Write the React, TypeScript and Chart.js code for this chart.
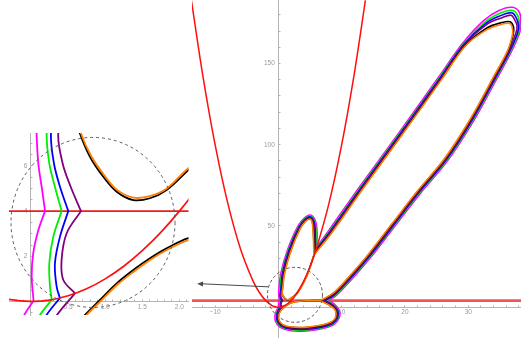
import React, { useEffect, useRef } from 'react';
import { Chart, registerables } from 'chart.js';

Chart.register(...registerables);

type Pt = [number, number];

// ---------- data (x, y in data units) ----------
const magentaCurve: Pt[] = [
  [6.0, 36.7], [8.03, 47.58], [12.78, 73.78], [19.08, 107.58], [25.38, 141.98], [29.08, 162.28],
  [32.38, 176.24], [34.85, 182.61], [36.99, 184.6], [38.13, 181.0], [38.26, 173.7], [38.08, 168.55],
  [36.73, 156.71], [34.52, 140.71], [30.87, 114.86], [26.75, 90.22], [22.49, 70.32], [18.27, 49.22],
  [14.62, 30.82], [11.42, 16.42], [9.06, 6.9], [7.84, 4.0], [7.84, 4.0], [8.81, 2.03], [9.66, -2.4],
  [9.61, -6.5], [8.81, -10.63], [7.04, -13.18], [4.5, -14.62], [1.97, -14.5], [0.29, -12.43],
  [-0.46, -8.6], [-0.51, -4.5], [-0.21, -1.5], [-0.09, -0.6], [0.035, 0.03], [0.035, 0.03],
  [0.01, 1.1], [0.03, 2.13], [0.1, 3.16], [0.19, 4.0], [0.19, 4.0], [0.144, 5.08], [0.099, 6.11],
  [0.076, 7.44], [0.06, 10.0], [0.4, 21.1], [1.48, 35.7], [3.11, 50.07], [4.27, 55.4], [5.24, 56.4],
  [5.95, 51.65], [6.11, 43.5], [6.0, 36.7],
];

const greenCurve: Pt[] = [
  [5.9, 35.5], [8.15, 47.2], [12.9, 73.4], [19.2, 107.2], [25.5, 141.6], [29.2, 161.9], [32.6, 175.4],
  [35.0, 180.9], [36.9, 182.8], [37.8, 179.7], [38.1, 173.6], [37.93, 168.7], [36.59, 157.0],
  [34.38, 141.0], [30.74, 115.2], [26.63, 90.6], [22.37, 70.7], [18.15, 49.6], [14.5, 31.2],
  [11.3, 16.8], [8.94, 7.3], [7.52, 4.0], [7.52, 4.0], [8.7, 1.6], [9.5, -2.4], [9.45, -6.5],
  [8.7, -10.2], [7.0, -12.6], [4.5, -14.0], [2.0, -13.9], [0.4, -12.0], [-0.3, -8.5], [-0.35, -4.5],
  [-0.05, -1.5], [0.12, -0.6], [0.28, 0.08], [0.28, 0.08], [0.256, 0.66], [0.247, 1.69], [0.301, 2.87],
  [0.413, 4.0], [0.413, 4.0], [0.323, 5.08], [0.247, 6.11], [0.211, 7.44], [0.25, 10.0], [0.55, 21.0],
  [1.6, 35.3], [3.2, 49.6], [4.3, 54.8], [5.2, 55.8], [5.8, 51.5], [5.95, 43.5], [5.9, 35.5],
];

const blueCurve: Pt[] = [
  [5.83, 34.66], [8.24, 46.93], [12.99, 73.13], [19.29, 106.93], [25.59, 141.33], [29.29, 161.63],
  [32.77, 174.77], [35.13, 179.48], [36.82, 181.3], [37.52, 178.6], [37.94, 173.55], [37.78, 168.85],
  [36.49, 157.2], [34.28, 141.2], [30.65, 115.44], [26.54, 90.87], [22.28, 70.97], [18.06, 49.87],
  [14.41, 31.47], [11.21, 17.07], [8.86, 7.58], [7.3, 4.0], [7.3, 4.0], [8.62, 1.3], [9.39, -2.4],
  [9.34, -6.5], [8.62, -9.9], [6.97, -12.19], [4.5, -13.57], [2.02, -13.48], [0.48, -11.7],
  [-0.19, -8.43], [-0.24, -4.5], [0.06, -1.5], [0.21, -0.6], [0.39, 0.15], [0.39, 0.15], [0.346, 0.66],
  [0.323, 1.69], [0.391, 2.87], [0.503, 4.0], [0.503, 4.0], [0.391, 5.08], [0.31, 6.11], [0.27, 7.44],
  [0.38, 10.0], [0.66, 20.93], [1.68, 35.02], [3.26, 49.27], [4.32, 54.38], [5.17, 55.38], [5.7, 51.4],
  [5.84, 43.5], [5.83, 34.66],
];

const purpleCurve: Pt[] = [
  [5.76, 33.82], [8.32, 46.67], [13.07, 72.87], [19.37, 106.67], [25.67, 141.07], [29.37, 161.37],
  [32.93, 174.14], [35.25, 178.05], [36.75, 179.8], [37.25, 177.5], [37.7, 173.5], [37.55, 169.1],
  [36.4, 157.4], [34.19, 141.41], [30.56, 115.68], [26.46, 91.13], [22.2, 71.23], [17.98, 50.13],
  [14.33, 31.73], [11.13, 17.33], [8.77, 7.86], [7.07, 4.0], [7.07, 4.0], [8.55, 1.0], [9.28, -2.4],
  [9.23, -6.5], [8.55, -9.6], [6.94, -11.79], [4.5, -13.14], [2.04, -13.06], [0.55, -11.4],
  [-0.08, -8.36], [-0.13, -4.5], [0.17, -1.5], [0.35, -0.6], [0.593, 0.36], [0.593, 0.36], [0.436, 0.95],
  [0.413, 1.84], [0.481, 3.02], [0.674, 4.0], [0.674, 4.0], [0.535, 5.08], [0.427, 6.11], [0.368, 7.44],
  [0.5, 10.0], [0.77, 20.86], [1.77, 34.74], [3.33, 48.94], [4.34, 53.96], [5.14, 54.96], [5.59, 51.29],
  [5.73, 43.5], [5.76, 33.82],
];

const blackOuterCurve: Pt[] = [
  [5.66, 32.62], [8.45, 46.29], [13.2, 72.49], [19.5, 106.29], [25.8, 140.69], [29.5, 160.99],
  [33.0, 172.0], [35.3, 175.2], [36.6, 175.7], [37.15, 172.5], [37.1, 168.0], [36.26, 157.7],
  [34.05, 141.7], [30.43, 116.0], [26.33, 91.5], [22.07, 71.6], [17.86, 50.51], [14.2, 32.11],
  [11.0, 17.71], [8.65, 8.26], [6.75, 4.0], [6.75, 4.0], [8.44, 0.57], [9.12, -2.4], [9.07, -6.5],
  [8.44, -9.17], [6.9, -11.21], [4.5, -12.52], [2.07, -12.46], [0.66, -10.97], [0.07, -8.26],
  [0.03, -4.5], [0.45, -1.5], [0.728, -0.6], [0.93, 0.07], [1.155, 0.8], [1.379, 1.39], [1.604, 1.91],
  [1.828, 2.35], [2.12, 2.8], [2.9, 3.5], [4.5, 3.95], [6.75, 4.0],
];

const blackInnerCurve: Pt[] = [
  [5.66, 32.62], [4.6, 20.5], [3.65, 12.9], [3.05, 9.3], [3.05, 9.3], [2.6, 7.3], [2.12, 5.82],
  [1.828, 4.93], [1.604, 4.57], [1.379, 4.49], [1.155, 4.86], [0.975, 5.52], [0.795, 6.41],
  [0.66, 7.44], [0.56, 8.6], [0.62, 11.0], [0.92, 20.76], [1.89, 34.34], [3.42, 48.47], [4.37, 53.36],
  [5.1, 54.36], [5.44, 51.14], [5.57, 43.5], [5.66, 32.62],
];

const orangeOuterCurve: Pt[] = [
  [5.62, 32.14], [8.49, 46.13], [13.24, 72.33], [19.54, 106.13], [25.84, 140.53], [29.54, 160.83],
  [33.0, 171.0], [35.3, 174.2], [36.6, 174.6], [37.0, 171.0], [36.95, 167.0], [36.2, 157.8],
  [33.99, 141.8], [30.37, 116.15], [26.29, 91.67], [22.03, 71.77], [17.81, 50.67], [14.16, 32.27],
  [10.96, 17.87], [8.6, 8.42], [6.62, 4.0], [6.62, 4.0], [8.39, 0.4], [9.06, -2.4], [9.01, -6.5],
  [8.39, -9.0], [6.89, -10.98], [4.5, -12.28], [2.08, -12.22], [0.71, -10.8], [0.13, -8.22],
  [0.09, -4.5], [0.5, -1.5], [0.75, -0.6], [0.95, 0.05], [1.17, 0.76], [1.39, 1.33], [1.61, 1.85],
  [1.83, 2.28], [2.12, 2.72], [2.9, 3.4], [4.5, 3.9], [6.62, 4.0],
];

const orangeInnerCurve: Pt[] = [
  [5.62, 32.14], [4.6, 20.0], [3.65, 12.5], [3.1, 9.0], [3.1, 9.0], [2.6, 7.1], [2.12, 5.9],
  [1.83, 5.0], [1.6, 4.66], [1.38, 4.6], [1.165, 4.93], [0.99, 5.58], [0.81, 6.45], [0.675, 7.44],
  [0.58, 8.6], [0.66, 11.0], [0.98, 20.72], [1.94, 34.18], [3.45, 48.28], [4.38, 53.12],
  [5.09, 54.12], [5.38, 51.08], [5.51, 43.5], [5.62, 32.14],
];

const redParabola: Pt[] = [
  [-13.75, 189], [-12, 144], [-10, 100], [-8, 64], [-6, 36], [-4, 16], [-3, 9], [-2, 4], [-1, 1],
  [-0.5, 0.25], [-0.3, 0.09], [0, 0], [0.25, 0.06], [0.5, 0.25], [0.75, 0.56], [1, 1], [1.25, 1.56],
  [1.5, 2.25], [1.75, 3.06], [2, 4], [2.25, 5.06], [2.5, 6.25], [3, 9], [4, 16], [5, 25], [6, 36],
  [8, 64], [10, 100], [12, 144], [13.75, 189],
];

const redLevelLine: Pt[] = [[-14, 4], [40, 4]];

const mainXTickLabels = [-10, 10, 20, 30];
const mainYTickLabels = [50, 100, 150];
const insetXTickLabels = [0.5, 1.0, 1.5, 2.0];
const insetYTickLabels = [2, 4, 6];

// ---------- annotation geometry ----------
const MAIN_RANGE = { xMin: -13.65, xMax: 38.33, yMin: -18.8, yMax: 188.9 };
const INSET_RANGE = { xMin: -0.296, xMax: 2.123, yMin: -0.6, yMax: 7.46 };
const MAIN_CIRCLE = { x: 2.62, y: 7.6, r: 27.5 };
const ARROW = { fromX: -1.6, fromY: 12.5, toX: -12.85, toY: 14.4 };
const INSET_CIRCLE = { x: 0.836, y: 3.5, rx: 82, ry: 85 };

const FONT = 'Liberation Sans, Arial, sans-serif';
const AXIS_COLOR = '#b4b4b4';
const LABEL_COLOR = '#9a9a9a';

const toXY = (pts: Pt[]) => pts.map(([x, y]) => ({ x, y }));
const near = (list: number[], v: number) => list.some((t) => Math.abs(t - v) < 1e-6);

function buildDatasets(w: number, redLineColor: string, redLineWidth: number) {
  const ds = (pts: Pt[], color: string, width: number, order: number) => ({
    data: toXY(pts),
    borderColor: color,
    backgroundColor: color,
    borderWidth: width,
    showLine: true,
    pointRadius: 0,
    pointHoverRadius: 0,
    tension: 0.35,
    fill: false,
    order,
  });
  return [
    ds(redParabola, '#ff1010', w * 0.95, 0),
    ds(orangeOuterCurve, '#ff8000', w, 1),
    ds(orangeInnerCurve, '#ff8000', w, 1),
    ds(blackOuterCurve, '#000000', w, 2),
    ds(blackInnerCurve, '#000000', w, 2),
    ds(purpleCurve, '#800080', w, 3),
    ds(blueCurve, '#0000ff', w, 4),
    ds(greenCurve, '#00ee00', w, 5),
    ds(magentaCurve, '#ff00ff', w, 6),
    ds(redLevelLine, redLineColor, redLineWidth, 7),
  ];
}

function axisScale(
  range: [number, number],
  pos: any,
  step: number,
  labels: number[],
  fmt: (v: number) => string,
  horizontal: boolean,
) {
  return {
    type: 'linear' as const,
    min: range[0],
    max: range[1],
    position: pos,
    afterFit: (s: any) => {
      if (horizontal) s.height = 0;
      else s.width = 0;
    },
    ticks: {
      stepSize: step,
      autoSkip: false,
      includeBounds: false,
      maxRotation: 0,
      minRotation: 0,
      padding: 0,
      color: LABEL_COLOR,
      // horizontal: tall line box pushes the labels below the axis; vertical: tiny box avoids extra layout padding
      font: { size: 6.5, family: FONT, lineHeight: horizontal ? 2.4 : 0.1 },
      callback: (v: any) => (near(labels, Number(v)) ? fmt(Number(v)) : ''),
    },
    grid: {
      drawOnChartArea: false,
      drawTicks: true,
      tickLength: -2.5,
      tickColor: AXIS_COLOR,
      tickWidth: 1,
    },
    border: { display: true, color: AXIS_COLOR, width: 1 },
  };
}

const mainDecor = {
  id: 'mainDecor',
  afterDatasetsDraw(chart: any) {
    const { ctx, scales } = chart;
    const x = scales.x;
    const y = scales.y;
    ctx.save();
    ctx.strokeStyle = '#555';
    ctx.lineWidth = 1;
    ctx.setLineDash([3, 2.5]);
    ctx.beginPath();
    ctx.arc(x.getPixelForValue(MAIN_CIRCLE.x), y.getPixelForValue(MAIN_CIRCLE.y), MAIN_CIRCLE.r, 0, Math.PI * 2);
    ctx.stroke();
    ctx.setLineDash([]);
    const x1 = x.getPixelForValue(ARROW.fromX);
    const y1 = y.getPixelForValue(ARROW.fromY);
    const x2 = x.getPixelForValue(ARROW.toX);
    const y2 = y.getPixelForValue(ARROW.toY);
    ctx.strokeStyle = '#4a4a4a';
    ctx.fillStyle = '#4a4a4a';
    ctx.beginPath();
    ctx.moveTo(x1, y1);
    ctx.lineTo(x2 + 4, y2);
    ctx.stroke();
    const ang = Math.atan2(y2 - y1, x2 - x1);
    const hl = 6;
    const hw = 2.6;
    ctx.beginPath();
    ctx.moveTo(x2, y2);
    ctx.lineTo(x2 - hl * Math.cos(ang) + hw * Math.sin(ang), y2 - hl * Math.sin(ang) - hw * Math.cos(ang));
    ctx.lineTo(x2 - hl * Math.cos(ang) - hw * Math.sin(ang), y2 - hl * Math.sin(ang) + hw * Math.cos(ang));
    ctx.closePath();
    ctx.fill();
    ctx.restore();
  },
};

const insetDecor = {
  id: 'insetDecor',
  afterDatasetsDraw(chart: any) {
    const { ctx, scales } = chart;
    ctx.save();
    ctx.strokeStyle = '#5a5a5a';
    ctx.lineWidth = 1;
    ctx.setLineDash([3, 3]);
    ctx.beginPath();
    ctx.ellipse(
      scales.x.getPixelForValue(INSET_CIRCLE.x),
      scales.y.getPixelForValue(INSET_CIRCLE.y),
      INSET_CIRCLE.rx,
      INSET_CIRCLE.ry,
      0,
      0,
      Math.PI * 2,
    );
    ctx.stroke();
    ctx.restore();
  },
};

const minus = (v: number) => (v < 0 ? '\u2212' + Math.abs(v) : String(v));

export default function App() {
  const mainRef = useRef<HTMLCanvasElement | null>(null);
  const insetRef = useRef<HTMLCanvasElement | null>(null);

  useEffect(() => {
    const common = {
      animation: false as const,
      responsive: false,
      devicePixelRatio: 1,
      events: [] as any[],
      elements: { line: { capBezierPoints: false } },
      plugins: { legend: { display: false }, tooltip: { enabled: false } },
    };

    const main = new Chart(mainRef.current as HTMLCanvasElement, {
      type: 'scatter',
      data: { datasets: buildDatasets(1.6, 'rgba(240,70,70,0.92)', 2.6) as any },
      options: {
        ...common,
        layout: { padding: 0 },
        scales: {
          x: axisScale([MAIN_RANGE.xMin, MAIN_RANGE.xMax], { y: 0 }, 2, mainXTickLabels, minus, true),
          y: axisScale([MAIN_RANGE.yMin, MAIN_RANGE.yMax], { x: 0 }, 10, mainYTickLabels, (v) => v + '  ', false),
        },
      } as any,
      plugins: [mainDecor],
    });

    const inset = new Chart(insetRef.current as HTMLCanvasElement, {
      type: 'scatter',
      data: { datasets: buildDatasets(1.8, '#ee1c1c', 1.8) as any },
      options: {
        ...common,
        layout: { padding: { left: 9, right: 3.5, top: 8, bottom: 10 } },
        scales: {
          x: axisScale([INSET_RANGE.xMin, INSET_RANGE.xMax], { y: 0 }, 0.1, insetXTickLabels, (v) => v.toFixed(1), true),
          y: axisScale([INSET_RANGE.yMin, INSET_RANGE.yMax], { x: 0 }, 0.5, insetYTickLabels, (v) => String(v) + '  ', false),
        },
      } as any,
      plugins: [insetDecor],
    });

    return () => {
      main.destroy();
      inset.destroy();
    };
  }, []);

  return (
    <div
      style={{
        position: 'fixed',
        left: 0,
        top: 0,
        width: 521,
        height: 338,
        background: '#ffffff',
        overflow: 'hidden',
      }}
    >
      <canvas
        ref={insetRef}
        width={192}
        height={200}
        style={{ position: 'absolute', left: 0, top: 125, width: 192, height: 200 }}
      />
      <canvas
        ref={mainRef}
        width={329}
        height={338}
        style={{ position: 'absolute', left: 192, top: 0, width: 329, height: 338 }}
      />
    </div>
  );
}
